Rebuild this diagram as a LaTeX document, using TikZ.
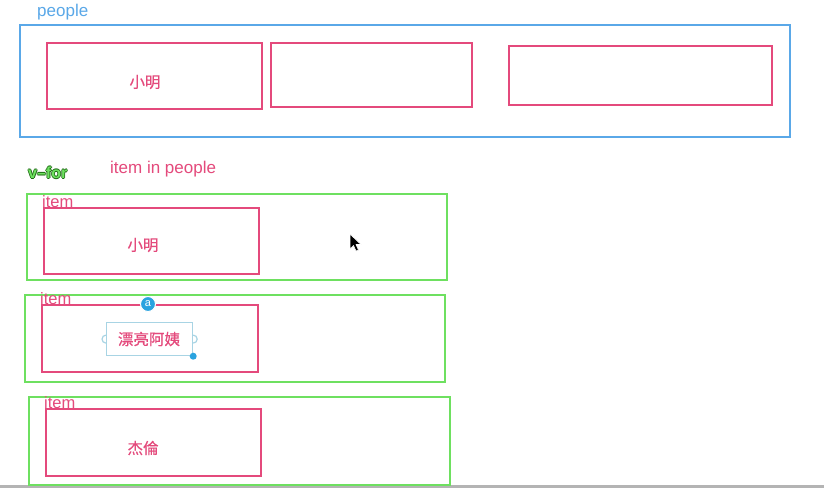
\documentclass[tikz,border=0pt]{standalone}
\usepackage{fontspec}
\setmainfont{Liberation Sans}
\newfontfamily\cjk[FakeBold=0.6]{Noto Sans CJK SC}
\definecolor{peopleblue}{HTML}{5AA8E8}
\definecolor{itempink}{HTML}{E44A7C}
\definecolor{vgreen}{HTML}{6EE060}
\definecolor{glowdark}{HTML}{1E6A14}
\definecolor{lightblue}{HTML}{A8D4E4}
\definecolor{dotblue}{HTML}{2AA3DF}
\definecolor{bargray}{HTML}{B4B4B4}
\newcommand{\myglow}[1]{%
 \makebox[0pt][l]{\raisebox{0.8pt}{\color{glowdark}#1}}%
 \makebox[0pt][l]{\raisebox{-0.8pt}{\color{glowdark}#1}}%
 \makebox[0pt][l]{\hspace{0.8pt}\color{glowdark}#1}%
 \makebox[0pt][l]{\hspace{-0.8pt}\color{glowdark}#1}%
 {\color{vgreen}#1}}
\begin{document}
\begin{tikzpicture}[x=1pt,y=-1pt,
  box/.style={anchor=north west, inner sep=0pt, line width=1.8pt},
  bluebox/.style={box, draw=peopleblue},
  pinkbox/.style={box, draw=itempink},
  greenbox/.style={box, draw=vgreen},
  txt/.style={inner sep=0pt, font=\fontsize{17}{20}\selectfont},
  cn/.style={inner sep=0pt, text=itempink, font=\cjk\fontsize{15.5}{18}\selectfont},
  itemlbl/.style={inner sep=0pt, anchor=south west, text=itempink, font=\fontsize{16.5}{18}\selectfont}
]
\useasboundingbox (0,0) rectangle (824,488);
\fill[white] (0,0) rectangle (824,488);
\fill[bargray] (0,485) rectangle (824,488);

% people container
\node[txt, anchor=west, text=peopleblue] (peoplelbl) at (37,12) {people};
\node[bluebox, minimum width=770pt, minimum height=112pt] (people) at (19,24) {};
\node[pinkbox, minimum width=215pt, minimum height=66pt] (p1) at (46,42) {};
\node[pinkbox, minimum width=201pt, minimum height=64pt] (p2) at (270,42) {};
\node[pinkbox, minimum width=263pt, minimum height=59pt] (p3) at (508,45) {};
\node[cn] (p1t) at (145,82) {小明};

% v-for
\node[inner sep=0pt, anchor=west, font=\bfseries\fontsize{16}{18}\selectfont] (vfor) at (28,173) {\myglow{v--for}};
\node[txt, anchor=west, text=itempink] (inpeople) at (110,169) {item in people};

% item 1
\node[greenbox, minimum width=420pt, minimum height=86pt] (g1) at (26,193) {};
\node[pinkbox, minimum width=215pt, minimum height=66pt] (i1) at (43,207) {};
\node[itemlbl] (l1) at (42,208) {item};
\node[cn] (i1t) at (143,245) {小明};

% item 2
\node[greenbox, minimum width=420pt, minimum height=87pt] (g2) at (24,294) {};
\node[pinkbox, minimum width=216pt, minimum height=67pt] (i2) at (41,304) {};
\node[itemlbl] (l2) at (40,305) {item};
\node[circle, fill=dotblue, draw=white, line width=1pt, minimum size=15pt, inner sep=0pt, text=white, font=\fontsize{11}{11}\selectfont] (a) at (148,304) {a};
\node[anchor=north west, draw=lightblue, fill=white, line width=1.2pt, minimum width=86pt, minimum height=33pt, inner sep=0pt] (sel) at (106,322) {};
\draw[lightblue, line width=1.2pt] (sel.west) ++(0,-4) arc[start angle=90, end angle=270, radius=4pt];
\draw[lightblue, line width=1.2pt] (sel.east) ++(0,-4) arc[start angle=90, end angle=-90, radius=4pt];
\node[cn] (i2t) at (149,339) {漂亮阿姨};
\fill[dotblue] (sel.south east) circle[radius=3.5pt];

% item 3
\node[greenbox, minimum width=421pt, minimum height=88pt] (g3) at (28,396) {};
\node[pinkbox, minimum width=215pt, minimum height=67pt] (i3) at (45,408) {};
\node[itemlbl] (l3) at (44,409) {item};
\node[cn] (i3t) at (143,448) {杰倫};

% mouse cursor
\filldraw[black, draw=white, line width=0.6pt, line join=round]
  (350,234) -- (350,249) -- (353.5,245.5) -- (356,251) -- (358.5,250) -- (356,244.5) -- (361,244.5) -- cycle;
\end{tikzpicture}
\end{document}
